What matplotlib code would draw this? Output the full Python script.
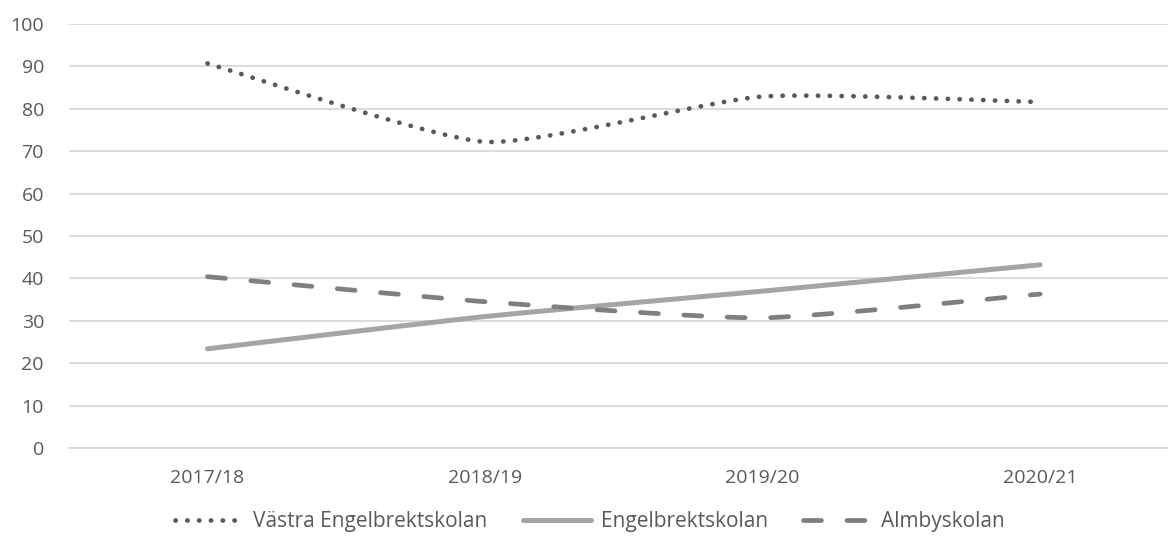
import numpy as np
import matplotlib
matplotlib.use("Agg")
import matplotlib.pyplot as plt

categories = ["2017/18", "2018/19", "2019/20", "2020/21"]
vastra = [90.7, 72.2, 82.9, 81.6]
engelbrekt = [23.4, 31.0, 37.0, 43.2]
almby = [40.4, 34.5, 30.7, 36.3]
yticks = list(range(0, 101, 10))

TXT = "#595959"
plt.rcParams['font.family'] = ['Open Sans', 'DejaVu Sans']


def smooth(xs, ys, n=40, k=0.55):
    # cardinal (Catmull-Rom-like) curve through the given points, Excel-like smoothing
    P = np.column_stack([xs, ys]).astype(float)
    m = len(P)
    T = np.zeros_like(P)
    for i in range(m):
        a = P[max(i - 1, 0)]
        b = P[min(i + 1, m - 1)]
        T[i] = (b - a) / 2.0 * k
    out = []
    t = np.linspace(0, 1, n)[:, None]
    h00 = 2 * t ** 3 - 3 * t ** 2 + 1
    h10 = t ** 3 - 2 * t ** 2 + t
    h01 = -2 * t ** 3 + 3 * t ** 2
    h11 = t ** 3 - t ** 2
    for i in range(m - 1):
        seg = h00 * P[i] + h10 * T[i] + h01 * P[i + 1] + h11 * T[i + 1]
        out.append(seg if i == 0 else seg[1:])
    out = np.vstack(out)
    return out[:, 0], out[:, 1]


fig = plt.figure(figsize=(11.68, 5.43), dpi=100)
ax = fig.add_axes([69 / 1168, 1 - 448 / 543, (1168 - 69) / 1168, 424 / 543])

x = np.arange(len(categories))
sx, sy = smooth(x, vastra)
ax.plot(sx, sy, color="#595959", lw=3.4, dashes=(0.05, 2.45), dash_capstyle="round",
        label="Västra Engelbrektskolan", zorder=3)
sx, sy = smooth(x, engelbrekt)
ax.plot(sx, sy, color="#a5a5a5", lw=3.6, solid_capstyle="round",
        label="Engelbrektskolan", zorder=3)
sx, sy = smooth(x, almby)
ax.plot(sx, sy, color="#7f7f7f", lw=3.4, dashes=(3.8, 5.4), dash_capstyle="round",
        label="Almbyskolan", zorder=3)

ax.set_xlim(-0.499, 3.461)
ax.set_ylim(0, 100)
ax.set_yticks(yticks)
ax.set_xticks(x)
ax.set_xticklabels(categories)
ax.grid(axis="y", color="#d9d9d9", lw=1.3)
ax.set_axisbelow(True)
for s in ["top", "right", "left"]:
    ax.spines[s].set_visible(False)
ax.spines["bottom"].set_color("#d9d9d9")
ax.spines["bottom"].set_linewidth(1.3)
ax.tick_params(axis="both", length=0, labelsize=14, labelcolor=TXT)
ax.tick_params(axis="y", pad=18)
ax.tick_params(axis="x", pad=15)

leg = fig.legend(loc="center", bbox_to_anchor=(590 / 1168, 1 - 522 / 543), ncol=3, frameon=False,
                 fontsize=15, handlelength=3.3, handletextpad=0.45, columnspacing=1.7)
for t in leg.get_texts():
    t.set_color(TXT)

fig.savefig("out.png", dpi=100)
